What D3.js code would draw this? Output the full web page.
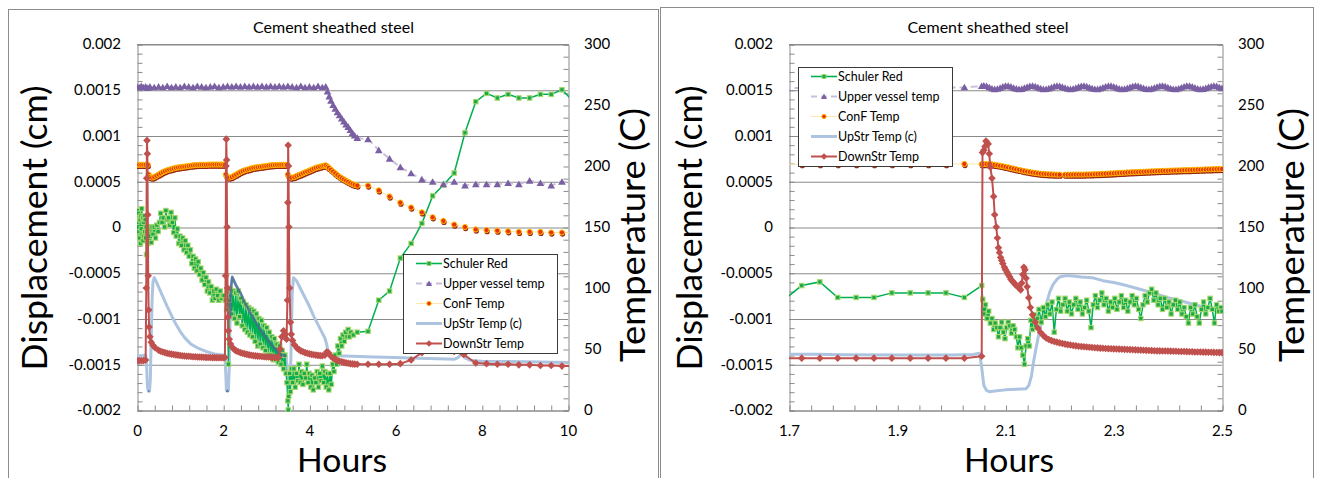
<!DOCTYPE html>
<html>
<head>
<meta charset="utf-8">
<script src="https://cdn.jsdelivr.net/npm/d3@7"></script>
<style>
  body { margin: 0; background: #fff; }
  text { font-family: Lato, "Open Sans", sans-serif; fill: #000; }
</style>
</head>
<body>
<script>
// ---- axis ticks ----
const dispTicks = [-0.002, -0.0015, -0.001, -0.0005, 0, 0.0005, 0.001, 0.0015, 0.002];
const tempTicks = [0, 50, 100, 150, 200, 250, 300];
const hoursTicksA = [0, 2, 4, 6, 8, 10];
const hoursTicksB = [1.7, 1.9, 2.1, 2.3, 2.5];
const seriesNames = ["Schuler Red", "Upper vessel temp", "ConF Temp", "UpStr Temp (c)", "DownStr Temp"];

// ---- full run, 0-10 h : [hours, displacement cm] / [hours, temperature C] ----
const schulerA = [
  [0.00,0.00005],[0.01,0.00018],[0.02,-0.0001],[0.03,0.00015],[0.04,-0.00005],[0.05,0.0001],[0.06,-0.00012],[0.07,0.00008],
  [0.08,-0.00018],[0.09,0.00012],[0.10,-0.00002],[0.11,0.0002],[0.12,-0.00008],[0.13,0.0001],[0.14,-0.00015],[0.15,0.00005],
  [0.16,-0.0001],[0.17,0.00012],[0.18,-0.00005],[0.19,0.00008],[0.20,-0.00012],[0.21,0.0],[0.22,-0.0003],[0.23,-0.00005],
  [0.25,-0.00018],[0.27,0.0],[0.29,-0.00015],[0.31,-0.00002],[0.33,-0.00017],[0.35,0.0],[0.37,-0.00008],[0.40,0.0],
  [0.43,-0.00012],[0.46,0.00002],[0.49,-0.00005],[0.52,0.00005],[0.55,0.00015],[0.58,0.00005],[0.61,0.0001],[0.64,0.0],
  [0.67,0.00018],[0.70,0.00008],[0.73,0.0001],[0.76,0.00002],[0.79,0.00016],[0.82,0.00005],[0.85,-0.00006],[0.88,0.0001],
  [0.91,-0.0001],[0.94,-0.00002],[0.97,-0.00018],[1.00,-0.0001],[1.03,-0.0002],[1.06,-0.00012],[1.09,-0.00025],[1.12,-0.00015],
  [1.15,-0.00028],[1.18,-0.0002],[1.21,-0.00032],[1.24,-0.00025],[1.27,-0.0004],[1.30,-0.00032],[1.33,-0.00045],[1.36,-0.00035],
  [1.39,-0.00048],[1.42,-0.00038],[1.45,-0.00052],[1.48,-0.00045],[1.51,-0.00058],[1.54,-0.0005],[1.57,-0.00063],[1.60,-0.00055],
  [1.63,-0.0007],[1.66,-0.0006],[1.69,-0.00072],[1.72,-0.00065],[1.75,-0.0008],[1.78,-0.0007],[1.81,-0.00078],[1.84,-0.00068],
  [1.87,-0.00075],[1.90,-0.0008],[1.93,-0.0007],[1.96,-0.00078],[1.99,-0.00075],[2.02,-0.00075],[2.05,-0.0008],[2.08,-0.0009],
  [2.10,-0.0007],[2.12,-0.0015],[2.14,-0.0008],[2.17,-0.00068],[2.20,-0.00095],[2.23,-0.0007],[2.26,-0.001],[2.29,-0.00072],
  [2.32,-0.00105],[2.35,-0.0007],[2.38,-0.00098],[2.41,-0.00078],[2.44,-0.00108],[2.47,-0.00082],[2.50,-0.00112],[2.53,-0.00085],
  [2.56,-0.00115],[2.59,-0.00088],[2.62,-0.00118],[2.65,-0.0009],[2.68,-0.0012],[2.71,-0.00092],[2.74,-0.00125],[2.77,-0.00095],
  [2.80,-0.0013],[2.83,-0.001],[2.86,-0.00128],[2.89,-0.00102],[2.92,-0.00132],[2.95,-0.00108],[2.98,-0.00135],[3.01,-0.0011],
  [3.04,-0.0014],[3.07,-0.00115],[3.10,-0.0014],[3.13,-0.0012],[3.16,-0.00145],[3.19,-0.00122],[3.22,-0.00145],[3.25,-0.00128],
  [3.28,-0.00148],[3.31,-0.0013],[3.34,-0.0015],[3.37,-0.00135],[3.40,-0.00155],[3.43,-0.0014],[3.46,-0.0016],[3.48,-0.0017],
  [3.50,-0.0019],[3.51,-0.002],[3.52,-0.00185],[3.54,-0.0016],[3.56,-0.0018],[3.58,-0.00155],[3.61,-0.0017],[3.64,-0.00155],
  [3.67,-0.00175],[3.70,-0.0016],[3.73,-0.00168],[3.76,-0.0015],[3.79,-0.0017],[3.82,-0.00158],[3.85,-0.00172],[3.88,-0.0016],
  [3.91,-0.00165],[3.94,-0.0015],[3.97,-0.0017],[4.00,-0.0016],[4.03,-0.00175],[4.06,-0.00162],[4.09,-0.00178],[4.12,-0.00165],
  [4.15,-0.0017],[4.18,-0.00158],[4.21,-0.00175],[4.24,-0.0016],[4.27,-0.00168],[4.30,-0.00152],[4.33,-0.0017],[4.36,-0.00158],
  [4.39,-0.00175],[4.42,-0.0016],[4.45,-0.00178],[4.48,-0.0016],[4.51,-0.00172],[4.54,-0.0015],[4.57,-0.00158],[4.60,-0.0014],
  [4.63,-0.0015],[4.66,-0.0013],[4.69,-0.00138],[4.72,-0.00122],[4.75,-0.0013],[4.78,-0.00118],[4.81,-0.00125],[4.84,-0.00115],
  [4.87,-0.0012],[4.90,-0.00112],[4.93,-0.0012],[4.96,-0.00115],[5.02,-0.00118],[5.11,-0.00115],
  [5.36,-0.00114],[5.61,-0.0008],[5.86,-0.0007],[6.11,-0.00034],[6.36,-0.00018],[6.61,0.00004],[6.86,0.00034],[7.11,0.00046],
  [7.36,0.00059],[7.61,0.00103],[7.86,0.00137],[8.11,0.00146],[8.36,0.00141],[8.61,0.00145],[8.86,0.00141],[9.11,0.00141],
  [9.36,0.00145],[9.61,0.00145],[9.86,0.0015],[10.11,0.00138]
];
const upperA = [
  [0,265],[0.05,264.5],[0.1,265.5],[0.15,264.5],[0.2,265],[0.25,264],[0.3,265],[0.4,264.5],[0.5,265],[0.6,264.5],
  [0.7,265.5],[0.8,264.5],[0.9,265],[1.0,264.5],[1.1,265.5],[1.2,265],[1.3,264.5],[1.4,265.5],[1.5,265],[1.6,264.5],
  [1.7,265],[1.8,265.5],[1.9,264.5],[2.0,265],[2.1,265.5],[2.2,265],[2.3,265.5],[2.4,265],[2.5,265.5],[2.6,265],
  [2.7,265.5],[2.8,265],[2.9,265.5],[3.0,265],[3.1,265.5],[3.2,265],[3.3,265.5],[3.4,265],[3.5,265.5],[3.6,265],
  [3.7,264.5],[3.8,265.5],[3.9,264.5],[4.0,265],[4.1,264.5],[4.2,265.5],[4.3,264.5],[4.38,265],
  [4.42,261],[4.46,257],[4.5,253.5],[4.55,250],[4.6,247],[4.65,244],[4.7,241.5],[4.75,239],[4.8,236.5],[4.85,234],
  [4.9,232],[4.95,229.5],[5.0,227],[5.05,225],[5.11,223],
  [5.36,222],[5.61,213],[5.86,206],[6.11,199],[6.36,194],[6.61,189],[6.86,187],[7.11,185],[7.36,187],[7.61,184],
  [7.86,185],[8.11,185],[8.36,185],[8.61,186],[8.86,185],[9.11,188],[9.36,186],[9.61,184],[9.86,187],[10.11,186]
];
const confA = [
  [0,201],[0.05,201],[0.1,201],[0.15,201],[0.2,201],[0.25,201],[0.27,193],[0.3,191],[0.35,190.5],[0.4,191],[0.45,192],
  [0.5,193],[0.55,194],[0.6,195],[0.65,195.8],[0.7,196.5],[0.75,197],[0.8,197.5],[0.85,198],[0.9,198.5],[0.95,198.8],
  [1.0,199],[1.05,199.3],[1.1,199.5],[1.15,199.8],[1.2,200],[1.25,200.3],[1.3,200.5],[1.35,200.7],[1.4,200.8],[1.45,200.9],
  [1.5,201],[1.55,201],[1.6,201],[1.65,201.1],[1.7,201.2],[1.75,201.2],[1.8,201.2],[1.85,201.2],[1.9,201.2],[1.95,201.2],
  [2.0,201.2],[2.04,201.2],[2.06,193],[2.09,191],[2.14,190.5],[2.2,191],[2.25,192],[2.3,193],[2.35,194],[2.4,195],[2.45,195.8],
  [2.5,196.5],[2.55,197],[2.6,197.5],[2.65,198],[2.7,198.5],[2.75,198.8],[2.8,199],[2.85,199.3],[2.9,199.5],[2.95,199.8],
  [3.0,200],[3.05,200.3],[3.1,200.5],[3.15,200.7],[3.2,200.8],[3.25,200.9],[3.3,201],[3.35,201],[3.4,201],[3.45,201],[3.48,201],
  [3.5,193],[3.53,191],[3.58,190.5],[3.65,191],[3.7,191.8],[3.75,192.5],[3.8,193.2],[3.85,194],[3.9,194.8],[3.95,195.5],
  [4.0,196.2],[4.05,197],[4.1,197.8],[4.15,198.5],[4.2,199],[4.25,199.5],[4.3,200],[4.34,200.3],[4.38,200.5],[4.42,199.5],
  [4.45,198.5],[4.5,197],[4.55,195.5],[4.6,194],[4.65,192.5],[4.7,191.2],[4.75,190],[4.8,189],[4.85,188],[4.9,187],[4.95,186],
  [5.0,185.2],[5.05,184.5],[5.11,184],
  [5.36,184],[5.61,180],[5.86,175],[6.11,170],[6.36,166],[6.61,162],[6.86,158],[7.11,155],[7.36,152],[7.61,150],
  [7.86,148],[8.11,147.5],[8.36,147],[8.61,146.5],[8.86,146],[9.11,146],[9.36,146],[9.61,145.5],[9.86,145.5],[10.11,145.5]
];
const upstrA = [
  [0,44.5],[0.1,44.5],[0.2,45],[0.225,35],[0.24,20],[0.26,15.5],[0.29,15.5],[0.31,25],[0.33,60],[0.35,90],[0.37,105],
  [0.4,108.5],[0.45,105],[0.5,101],[0.6,93],[0.7,85],[0.8,77.5],[0.9,70.5],[1.0,64.5],[1.1,59.5],[1.25,54],[1.4,51],
  [1.6,48],[1.8,46],[2.0,45],[2.04,45],[2.06,30],[2.075,16],[2.1,15.5],[2.12,16],[2.14,35],[2.16,75],[2.18,100],[2.21,109],
  [2.3,102],[2.4,96],[2.5,88],[2.63,79.5],[2.75,72],[2.86,65.5],[3.0,59],[3.09,55],[3.2,50],[3.28,47],[3.38,45],[3.46,44],
  [3.48,35],[3.5,20],[3.53,17],[3.56,25],[3.58,60],[3.6,95],[3.63,108.5],[3.7,106],[3.8,99],[3.9,92],[4.0,85],[4.1,77],
  [4.2,70],[4.3,63],[4.36,59],[4.4,54],[4.43,48],[4.48,45],[4.6,44.5],[5.0,44],[5.5,43.5],[6.0,43],[6.5,42.5],[7.0,42],
  [7.35,41.5],[7.45,43],[7.53,46],[7.62,42.5],[7.75,40.5],[8.0,40],[9.0,39.5],[10,39]
];
const downstrA = [
  [0,40.5],[0.05,40.5],[0.1,40.5],[0.15,40.5],[0.2,41],[0.215,100],[0.225,190],[0.232,221],[0.24,210],[0.25,160],[0.26,110],
  [0.27,82],[0.28,68],[0.3,60],[0.33,55.5],[0.37,53],[0.42,51],[0.5,49],[0.55,48.2],[0.6,47.5],[0.65,47],[0.7,46.5],[0.75,46.1],
  [0.8,45.8],[0.85,45.5],[0.9,45.2],[0.95,45],[1.0,44.7],[1.05,44.5],[1.1,44.3],[1.15,44.1],[1.2,44],[1.25,43.8],[1.3,43.7],
  [1.35,43.6],[1.4,43.5],[1.45,43.4],[1.5,43.3],[1.55,43.2],[1.6,43.1],[1.65,43],[1.7,43],[1.75,42.9],[1.8,42.9],[1.85,42.8],
  [1.9,42.8],[1.95,42.8],[2.0,42.8],[2.04,43],[2.055,110],[2.065,200],[2.072,222],[2.08,205],[2.09,150],[2.1,100],[2.11,76],
  [2.12,65],[2.14,58],[2.17,54],[2.22,51],[2.26,49.5],[2.3,48.5],[2.35,47.7],[2.4,47],[2.45,46.5],[2.5,46],[2.55,45.6],[2.6,45.2],
  [2.65,44.9],[2.7,44.6],[2.75,44.4],[2.8,44.2],[2.85,44],[2.9,43.8],[2.95,43.6],[3.0,43.5],[3.05,43.4],[3.1,43.2],[3.15,43.1],
  [3.2,43],[3.25,43],[3.28,43],[3.32,50],[3.36,60],[3.4,65],[3.44,62],[3.47,58],[3.49,90],[3.5,170],[3.507,217],[3.515,200],
  [3.525,150],[3.54,100],[3.56,72],[3.58,62],[3.61,57],[3.65,53.5],[3.72,50.5],[3.76,49.5],[3.8,48.5],[3.85,47.7],[3.9,47],
  [3.95,46.5],[4.0,46],[4.05,45.6],[4.1,45.3],[4.15,45],[4.2,44.8],[4.25,44.6],[4.3,44.5],[4.36,45],[4.4,47.5],[4.44,47],
  [4.5,44],[4.55,42.5],[4.6,41.5],[4.65,40.7],[4.7,40],[4.75,39.5],[4.8,39],[4.85,38.6],[4.9,38.3],[4.95,38],[5.0,37.8],
  [5.05,37.6],[5.11,37.5],
  [5.36,37.5],[5.61,37.5],[5.86,37.5],[6.11,38],[6.36,41],[6.61,47],[6.86,49.5],[7.11,49.5],[7.36,48],[7.58,45.5],
  [7.86,38.5],[8.11,38],[8.36,37.5],[8.61,37.5],[8.86,37],[9.11,37],[9.36,36.5],[9.61,36.5],[9.86,36],[10.11,36]
];
// stretches where the upstream record is densely logged and renders darker
const upstrDenseA = [[0.245, 0.3], [2.07, 2.125], [2.15, 3.47]];

// ---- zoom on the second event, 1.7-2.5 h ----
const schulerB = [
  [1.69,-0.0008],[1.7235,-0.00064],[1.757,-0.0006],[1.79,-0.00077],[1.824,-0.00077],[1.857,-0.00077],[1.89,-0.00072],
  [1.924,-0.00072],[1.957,-0.00072],[1.99,-0.00072],[2.024,-0.00077],[2.056,-0.00064],
  [2.058,-0.00079],[2.06,-0.00095],[2.063,-0.00085],[2.066,-0.001],[2.069,-0.00092],[2.072,-0.00105],[2.075,-0.001],
  [2.078,-0.00112],[2.081,-0.00105],[2.084,-0.0011],[2.087,-0.0012],[2.09,-0.0011],[2.093,-0.00104],[2.096,-0.00115],
  [2.099,-0.00122],[2.102,-0.0011],[2.105,-0.00104],[2.108,-0.00108],[2.111,-0.00116],[2.114,-0.00108],[2.117,-0.00112],
  [2.12,-0.0012],[2.123,-0.00132],[2.126,-0.0012],[2.129,-0.00132],[2.132,-0.0014],[2.135,-0.0015],[2.138,-0.0013],
  [2.141,-0.00122],[2.144,-0.0013],[2.147,-0.00102],[2.15,-0.00112],[2.153,-0.00096],[2.156,-0.00108],[2.159,-0.001],
  [2.162,-0.0009],[2.166,-0.00104],[2.17,-0.00088],[2.174,-0.00098],[2.178,-0.00085],[2.182,-0.00095],[2.186,-0.00082],
  [2.19,-0.00115],[2.194,-0.0009],[2.198,-0.00078],[2.202,-0.00092],[2.206,-0.00085],[2.21,-0.00078],[2.214,-0.00092],
  [2.218,-0.00082],[2.222,-0.00095],[2.226,-0.00085],[2.23,-0.00078],[2.234,-0.0009],[2.238,-0.00082],[2.242,-0.00095],
  [2.246,-0.00088],[2.25,-0.0008],[2.254,-0.00092],[2.258,-0.0011],[2.262,-0.00085],[2.266,-0.00075],[2.27,-0.00088],
  [2.274,-0.0008],[2.278,-0.00072],[2.282,-0.00085],[2.286,-0.00078],[2.29,-0.00092],[2.294,-0.00082],[2.298,-0.00088],
  [2.302,-0.00078],[2.306,-0.0009],[2.31,-0.00082],[2.314,-0.00075],[2.318,-0.00088],[2.322,-0.0008],[2.326,-0.00092],
  [2.33,-0.00082],[2.334,-0.00075],[2.338,-0.00085],[2.342,-0.00078],[2.346,-0.0009],[2.35,-0.001],[2.354,-0.00085],
  [2.358,-0.00075],[2.362,-0.00082],[2.366,-0.00072],[2.37,-0.00068],[2.374,-0.0008],[2.378,-0.00072],[2.382,-0.00085],
  [2.386,-0.00078],[2.39,-0.0009],[2.394,-0.00078],[2.398,-0.00088],[2.402,-0.00082],[2.406,-0.00095],[2.41,-0.00085],
  [2.414,-0.0008],[2.418,-0.0009],[2.422,-0.00082],[2.426,-0.00095],[2.43,-0.00088],[2.434,-0.00098],[2.438,-0.00105],
  [2.442,-0.00088],[2.446,-0.00095],[2.45,-0.00085],[2.454,-0.00098],[2.458,-0.00105],[2.462,-0.0009],[2.466,-0.00082],
  [2.47,-0.00095],[2.474,-0.00088],[2.478,-0.00078],[2.482,-0.0009],[2.486,-0.00105],[2.49,-0.00085],[2.494,-0.00092],
  [2.498,-0.00088],[2.5,-0.00092]
];
const upperB = [
  [1.69,264],[1.7235,264],[1.757,264],[1.79,264],[1.824,264],[1.857,264],[1.89,264],[1.924,264],[1.957,264],[1.99,264],
  [2.024,264.5],[2.056,265.5],[2.06,266],[2.065,265.5],[2.07,264.5],[2.075,263.5],[2.08,263],[2.085,263.3],[2.09,264],
  [2.095,265],[2.1,265.6],[2.105,265.6],[2.11,265],[2.115,264],[2.12,263.4],[2.125,263],[2.13,263.2],[2.135,264],
  [2.14,264.8],[2.145,265.5],[2.15,265.7],[2.155,265.2],[2.16,264.4],[2.165,263.6],[2.17,263],[2.175,263.1],[2.18,263.6],
  [2.185,264.4],[2.19,265.2],[2.195,265.7],[2.2,265.5],[2.205,264.8],[2.21,264],[2.215,263.3],[2.22,263],[2.225,263.3],
  [2.23,264],[2.235,264.8],[2.24,265.5],[2.245,265.7],[2.25,265.2],[2.255,264.4],[2.26,263.6],[2.265,263.1],[2.27,263],
  [2.275,263.5],[2.28,264.3],[2.285,265.1],[2.29,265.6],[2.295,265.6],[2.3,265],[2.305,264.2],[2.31,263.4],[2.315,263],
  [2.32,263.2],[2.325,263.8],[2.33,264.6],[2.335,265.3],[2.34,265.7],[2.345,265.4],[2.35,264.6],[2.355,263.8],[2.36,263.2],
  [2.365,263],[2.37,263.4],[2.375,264.1],[2.38,264.9],[2.385,265.5],[2.39,265.7],[2.395,265.2],[2.4,264.4],[2.405,263.6],
  [2.41,263.1],[2.415,263],[2.42,263.5],[2.425,264.3],[2.43,265.1],[2.435,265.6],[2.44,265.6],[2.445,265],[2.45,264.2],
  [2.455,263.4],[2.46,263],[2.465,263.2],[2.47,263.8],[2.475,264.6],[2.48,265.3],[2.485,265.7],[2.49,265.4],[2.495,264.6],
  [2.5,263.8]
];
const confB = [
  [1.69,201.5],[1.7235,201.5],[1.757,201.5],[1.79,201.5],[1.824,201.5],[1.857,201.5],[1.89,201.5],[1.924,201.5],
  [1.957,201.5],[1.99,201.5],[2.024,201.7],
  [2.056,201.5],[2.06,201.6],[2.065,201.6],[2.07,201.5],[2.075,201.3],[2.08,201],[2.085,200.6],[2.09,200.2],[2.095,199.8],
  [2.1,199.3],[2.105,198.8],[2.11,198.3],[2.115,197.8],[2.12,197.3],[2.125,196.8],[2.13,196.3],[2.135,195.8],[2.14,195.4],
  [2.145,195],[2.15,194.6],[2.155,194.3],[2.16,194],[2.165,193.7],[2.17,193.5],[2.175,193.3],[2.18,193.2],[2.185,193.1],
  [2.19,193],[2.195,192.9],[2.2,192.9],[2.21,192.9],[2.215,192.9],[2.22,192.9],[2.225,193],[2.23,193],[2.235,193],[2.24,193],
  [2.245,193],[2.25,193.1],[2.255,193.1],[2.26,193.2],[2.265,193.3],[2.27,193.4],[2.275,193.5],[2.28,193.6],[2.285,193.7],
  [2.29,193.8],[2.295,193.9],[2.3,194],[2.305,194.2],[2.31,194.3],[2.315,194.4],[2.32,194.5],[2.325,194.7],[2.33,194.8],
  [2.335,194.9],[2.34,195],[2.345,195.1],[2.35,195.2],[2.355,195.3],[2.36,195.4],[2.365,195.5],[2.37,195.6],[2.375,195.7],
  [2.38,195.8],[2.385,195.9],[2.39,196],[2.395,196.05],[2.4,196.1],[2.405,196.2],[2.41,196.3],[2.415,196.35],[2.42,196.4],
  [2.425,196.5],[2.43,196.6],[2.435,196.65],[2.44,196.7],[2.445,196.8],[2.45,196.9],[2.455,196.95],[2.46,197],[2.465,197.1],
  [2.47,197.2],[2.475,197.25],[2.48,197.3],[2.485,197.4],[2.49,197.5],[2.495,197.55],[2.5,197.6]
];
const upstrB = [
  [1.7,45.6],[1.75,45.6],[1.8,45.3],[1.9,45],[2.0,45],[2.04,45.5],[2.052,46.5],[2.056,35],[2.06,20],[2.065,16],[2.07,15],
  [2.08,15.5],[2.1,16.5],[2.12,17],[2.138,17.5],[2.143,20],[2.148,28],[2.152,40],[2.157,52],[2.162,63],[2.17,78],
  [2.176,88],[2.182,97],[2.188,103],[2.195,107],[2.2,109],[2.21,110],[2.22,110],[2.24,109],[2.26,108.5],[2.28,106],
  [2.3,104.5],[2.32,102.5],[2.34,100],[2.36,97.5],[2.38,95],[2.4,92],[2.42,90],[2.44,87.5],[2.46,85],[2.48,83],[2.5,81]
];
const downstrB = [
  [1.69,42.5],[1.7235,42.5],[1.757,42.5],[1.79,42.5],[1.824,42.5],[1.857,42.5],[1.89,42.5],[1.924,42.5],[1.957,42.5],
  [1.99,42.5],[2.024,42.5],[2.056,44],[2.0575,211],[2.06,213],[2.062,216],[2.064,220.5],[2.066,219],[2.068,218],[2.07,210],
  [2.072,199],[2.075,190],[2.078,175],[2.08,160],[2.083,150],[2.085,141],[2.087,133],[2.089,129],[2.091,125],[2.093,122.5],
  [2.095,120],[2.098,117],[2.1,115],[2.103,113],[2.105,111],[2.108,109],[2.11,107],[2.113,105.5],[2.115,104.5],[2.118,103],
  [2.12,102],[2.123,101],[2.125,100],[2.128,98.5],[2.13,104],[2.132,111],[2.134,117],[2.136,115],[2.138,108],[2.14,101],
  [2.143,92],[2.146,84],[2.15,78],[2.155,72],[2.16,67],[2.165,63.5],[2.17,61],[2.175,59],[2.18,57.8],[2.185,56.9],[2.19,56.2],
  [2.195,55.6],[2.2,55],[2.205,54.5],[2.21,54],[2.215,53.6],[2.22,53.3],[2.225,52.9],[2.23,52.6],[2.235,52.3],[2.24,52],
  [2.245,51.8],[2.25,51.6],[2.255,51.4],[2.26,51.2],[2.265,51],[2.27,50.9],[2.275,50.7],[2.28,50.6],[2.285,50.4],[2.29,50.3],
  [2.295,50.2],[2.3,50.1],[2.305,50],[2.31,49.9],[2.315,49.8],[2.32,49.7],[2.325,49.6],[2.33,49.5],[2.335,49.4],[2.34,49.3],
  [2.345,49.2],[2.35,49.1],[2.355,49],[2.36,48.9],[2.365,48.8],[2.37,48.7],[2.375,48.6],[2.38,48.5],[2.385,48.45],[2.39,48.4],
  [2.395,48.35],[2.4,48.3],[2.405,48.25],[2.41,48.2],[2.415,48.1],[2.42,48],[2.425,47.95],[2.43,47.9],[2.435,47.85],[2.44,47.8],
  [2.445,47.7],[2.45,47.6],[2.455,47.55],[2.46,47.5],[2.465,47.45],[2.47,47.4],[2.475,47.35],[2.48,47.3],[2.485,47.2],
  [2.49,47.1],[2.495,47.05],[2.5,47]
];
const upstrDenseB = [];

// ---- page ----
const W = 1318, H = 478, TOP = 44, BOTTOM = 410;
const svg = d3.select("body").append("svg").attr("width", W).attr("height", H);

const COLORS = {
  grid: "#8a8a8a", schuler: "#00b050", schulerMark: "#1ea84c", schulerEdge: "#a3d86a",
  upperLine: "#c9bfdc", upperMark: "#7a5fa3", confLine: "#fde8ae", confMark: "#e8330e", confEdge: "#ffbf00",
  confShadow: "#9a2412", upstr: "#adc4e1", upstrDense: "#4a6892", downstr: "#c0504d"
};

const triPath = "M0,-3.6L3.8,3L-3.8,3Z";
const diaPath = "M0,-3.8L3.8,0L0,3.8L-3.8,0Z";

function drawMarkers(g, data, x, y, kind) {
  const layer = g.append("g");
  if (kind === "square") {
    layer.selectAll(null).data(data).join("rect")
      .attr("x", d => x(d[0]) - 2.2).attr("y", d => y(d[1]) - 2.2).attr("width", 4.4).attr("height", 4.4)
      .attr("fill", COLORS.schulerMark).attr("stroke", COLORS.schulerEdge).attr("stroke-width", 1.1);
  } else if (kind === "dot") {
    // soft drop shadow under each point, then the point itself
    layer.selectAll(null).data(data).join("circle")
      .attr("cx", d => x(d[0]) + 0.6).attr("cy", d => y(d[1]) + 1.6).attr("r", 2.6)
      .attr("fill", COLORS.confShadow);
    layer.selectAll(null).data(data).join("circle").attr("class", "pt")
      .attr("cx", d => x(d[0])).attr("cy", d => y(d[1])).attr("r", 2.6)
      .attr("fill", COLORS.confMark).attr("stroke", COLORS.confEdge).attr("stroke-width", 1);
  } else if (kind === "tri") {
    layer.selectAll(null).data(data).join("path")
      .attr("d", triPath).attr("transform", d => `translate(${x(d[0])},${y(d[1])})`).attr("fill", COLORS.upperMark);
  } else {
    layer.selectAll(null).data(data).join("path")
      .attr("d", diaPath).attr("transform", d => `translate(${x(d[0])},${y(d[1])})`).attr("fill", COLORS.downstr);
  }
}

function drawLegend(g, x0, y0) {
  const lg = g.append("g");
  lg.append("rect").attr("x", x0 + 0.5).attr("y", y0 + 0.5).attr("width", 154).attr("height", 99)
    .attr("fill", "#fff").attr("stroke", "#3a3a3a").attr("stroke-width", 1);
  seriesNames.forEach((name, i) => {
    const cy = y0 + 9.5 + i * 20, xa = x0 + 13, xb = x0 + 39, xm = (xa + xb) / 2;
    const ln = lg.append("line").attr("x1", xa).attr("x2", xb).attr("y1", cy).attr("y2", cy).attr("fill", "none");
    if (i === 0) {
      ln.attr("stroke", COLORS.schuler).attr("stroke-width", 1.6);
      lg.append("rect").attr("x", xm - 2).attr("y", cy - 2).attr("width", 4).attr("height", 4)
        .attr("fill", COLORS.schulerMark).attr("stroke", COLORS.schulerEdge).attr("stroke-width", 0.8);
    } else if (i === 1) {
      ln.attr("stroke", COLORS.upperLine).attr("stroke-width", 2).attr("stroke-dasharray", "6,4");
      lg.append("path").attr("d", triPath).attr("transform", `translate(${xm},${cy}) scale(0.8)`).attr("fill", COLORS.upperMark);
    } else if (i === 2) {
      ln.attr("stroke", COLORS.confLine).attr("stroke-width", 1);
      lg.append("circle").attr("cx", xm).attr("cy", cy).attr("r", 2.2)
        .attr("fill", COLORS.confMark).attr("stroke", COLORS.confEdge).attr("stroke-width", 0.9);
    } else if (i === 3) {
      ln.attr("stroke", COLORS.upstr).attr("stroke-width", 3);
    } else {
      ln.attr("stroke", COLORS.downstr).attr("stroke-width", 2);
      lg.append("path").attr("d", diaPath).attr("transform", `translate(${xm},${cy}) scale(0.85)`).attr("fill", COLORS.downstr);
    }
    lg.append("text").attr("x", x0 + 40).attr("y", cy).attr("dy", "0.36em")
      .attr("font-size", 12.5).text(name);
  });
}

function drawPanel(p) {
  const g = svg.append("g");
  g.append("rect").attr("x", p.frame[0] + 0.5).attr("y", p.frame[1] + 0.5)
    .attr("width", p.frame[2]).attr("height", p.frame[3]).attr("fill", "#fff").attr("stroke", "#8c8c8c");

  const x = d3.scaleLinear().domain(p.xDomain).range([p.left, p.right]);
  const yD = d3.scaleLinear().domain([-0.002, 0.002]).range([BOTTOM, TOP]);
  const yT = d3.scaleLinear().domain([0, 300]).range([BOTTOM, TOP]);

  // horizontal gridlines
  g.append("g").attr("transform", `translate(${p.left},0.5)`)
    .call(d3.axisLeft(yD).tickValues(dispTicks).tickSize(-(p.right - p.left)).tickFormat(""))
    .call(s => s.select(".domain").remove())
    .call(s => s.selectAll("line").attr("stroke", COLORS.grid));

  // minor tick marks, all pointing into the plot
  const minorDisp = d3.range(-20, 21).map(i => i / 10000);
  const minorTemp = d3.range(0, 301, 10);
  g.append("g").attr("transform", `translate(${p.left + 0.5},0.5)`)
    .call(d3.axisLeft(yD).tickValues(minorDisp).tickSize(-5).tickFormat(""))
    .call(s => s.selectAll("line,path").attr("stroke", COLORS.grid));
  g.append("g").attr("transform", `translate(${p.right + 0.5},0.5)`)
    .call(d3.axisRight(yT).tickValues(minorTemp).tickSize(-5).tickFormat(""))
    .call(s => s.selectAll("line,path").attr("stroke", COLORS.grid));
  g.append("g").attr("transform", `translate(0.5,${BOTTOM + 0.5})`)
    .call(d3.axisBottom(x).tickValues(p.xMinor).tickSize(-5).tickFormat("").tickSizeOuter(0))
    .call(s => s.selectAll("line,path").attr("stroke", COLORS.grid));
  g.append("line").attr("x1", p.left).attr("x2", p.right + 1).attr("y1", TOP + 0.5).attr("y2", TOP + 0.5).attr("stroke", COLORS.grid);

  // tick labels
  const labelStyle = s => s.selectAll("text").attr("font-size", 15).attr("fill", "#000").style("font-family", "Lato");
  g.append("g").attr("transform", `translate(${p.left},0)`)
    .call(d3.axisLeft(yD).tickValues(dispTicks).tickFormat(String).tickSize(0).tickPadding(16))
    .call(s => s.select(".domain").remove()).call(labelStyle);
  g.append("g").attr("transform", `translate(${p.right},0)`)
    .call(d3.axisRight(yT).tickValues(tempTicks).tickFormat(String).tickSize(0).tickPadding(16))
    .call(s => s.select(".domain").remove()).call(labelStyle);
  g.append("g").attr("transform", `translate(0,${BOTTOM})`)
    .call(d3.axisBottom(x).tickValues(p.xTicks).tickFormat(String).tickSize(0).tickPadding(15))
    .call(s => s.select(".domain").remove()).call(labelStyle);

  // titles
  g.append("text").attr("x", p.titleX).attr("y", 33).attr("text-anchor", "middle")
    .attr("font-size", 15).attr("textLength", 161).attr("lengthAdjust", "spacingAndGlyphs")
    .text("Cement sheathed steel");
  g.append("text").attr("x", p.hoursX).attr("y", 472).attr("text-anchor", "middle")
    .attr("font-size", 33).attr("textLength", 90).attr("lengthAdjust", "spacingAndGlyphs").text("Hours");
  g.append("text").attr("transform", `translate(${p.dispX},228) rotate(-90)`).attr("text-anchor", "middle")
    .attr("font-size", 35).attr("textLength", 285).attr("lengthAdjust", "spacingAndGlyphs").text("Displacement (cm)");
  g.append("text").attr("transform", `translate(${p.tempX},235) rotate(-90)`).attr("text-anchor", "middle")
    .attr("font-size", 35).attr("textLength", 254).attr("lengthAdjust", "spacingAndGlyphs").text("Temperature (C)");

  // data
  const clipId = "clip" + p.id;
  svg.append("clipPath").attr("id", clipId).append("rect")
    .attr("x", p.left).attr("y", TOP - 6).attr("width", p.right - p.left + 1).attr("height", BOTTOM - TOP + 8);
  const plot = g.append("g").attr("clip-path", `url(#${clipId})`);
  const lineD = d3.line().x(d => x(d[0])).y(d => yD(d[1]));
  const lineT = d3.line().x(d => x(d[0])).y(d => yT(d[1]));

  plot.append("path").attr("d", lineT(p.upstr)).attr("fill", "none").attr("stroke", COLORS.upstr)
    .attr("stroke-width", 3).attr("stroke-linejoin", "round");

  plot.append("path").attr("d", lineD(p.schuler)).attr("fill", "none").attr("stroke", COLORS.schuler).attr("stroke-width", 1.5);
  drawMarkers(plot, p.schuler, x, yD, "square");

  p.upstrDense.forEach(([a, b]) => {
    const seg = p.upstr.filter(d => d[0] >= a && d[0] <= b);
    plot.append("path").attr("d", lineT(seg)).attr("fill", "none").attr("stroke", COLORS.upstrDense)
      .attr("stroke-width", 2.4).attr("stroke-opacity", 0.8).attr("stroke-linejoin", "round");
  });

  plot.append("path").attr("d", lineT(p.upper)).attr("fill", "none").attr("stroke", COLORS.upperLine)
    .attr("stroke-width", 2).attr("stroke-dasharray", "7,4");
  drawMarkers(plot, p.upper, x, yT, "tri");

  plot.append("path").attr("d", lineT(p.conf)).attr("fill", "none").attr("stroke", COLORS.confLine).attr("stroke-width", 1);
  drawMarkers(plot, p.conf, x, yT, "dot");

  plot.append("path").attr("d", lineT(p.downstr)).attr("fill", "none").attr("stroke", COLORS.downstr)
    .attr("stroke-width", 2).attr("stroke-linejoin", "round");
  drawMarkers(plot, p.downstr, x, yT, "dia");

  drawLegend(g, p.legend[0], p.legend[1]);
}

drawPanel({
  id: "A", frame: [8, 9, 650, 480], left: 137, right: 568, xDomain: [0, 10],
  xTicks: hoursTicksA, xMinor: d3.range(0, 26).map(i => i * 0.4),
  titleX: 333.5, hoursX: 342, dispX: 47, tempX: 645, legend: [403, 254],
  schuler: schulerA, upper: upperA, conf: confA, upstr: upstrA, downstr: downstrA, upstrDense: upstrDenseA
});
drawPanel({
  id: "B", frame: [660, 7, 653, 480], left: 789, right: 1222, xDomain: [1.7, 2.5],
  xTicks: hoursTicksB, xMinor: d3.range(0, 21).map(i => 1.7 + i * 0.04),
  titleX: 988, hoursX: 1009, dispX: 702, tempX: 1304, legend: [798, 67],
  schuler: schulerB, upper: upperB, conf: confB, upstr: upstrB, downstr: downstrB, upstrDense: upstrDenseB
});
</script>
</body>
</html>
